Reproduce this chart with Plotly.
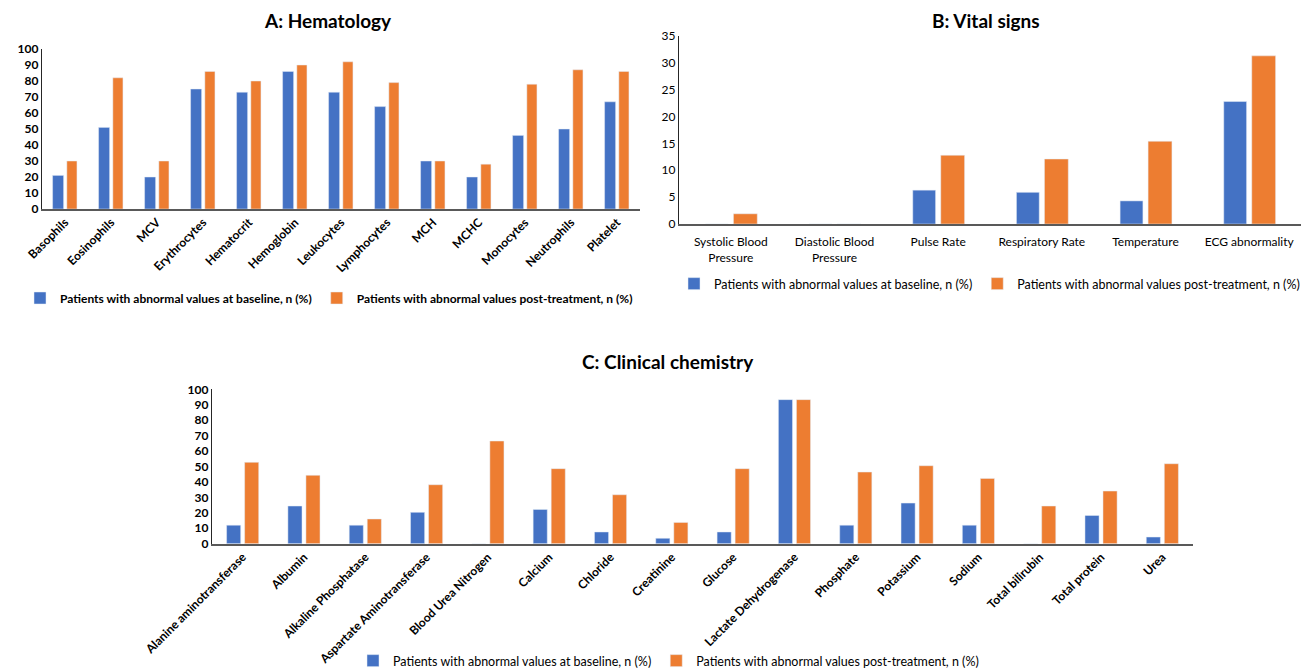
import plotly.graph_objects as go

# ---------------- data ----------------
hema_cats = ["Basophils", "Eosinophils", "MCV", "Erythrocytes", "Hematocrit", "Hemoglobin",
             "Leukocytes", "Lymphocytes", "MCH", "MCHC", "Monocytes", "Neutrophils", "Platelet"]
hema_base = [21, 51, 20, 75, 73, 86, 73, 64, 30, 20, 46, 50, 67]
hema_post = [30, 82, 30, 86, 80, 90, 92, 79, 30, 28, 78, 87, 86]

vital_cats = ["Systolic Blood<br>Pressure", "Diastolic Blood<br>Pressure", "Pulse Rate",
              "Respiratory Rate", "Temperature", "ECG abnormality"]
vital_base = [0, 0, 6.3, 5.9, 4.3, 22.8]
vital_post = [1.9, 0, 12.8, 12.1, 15.4, 31.3]

chem_cats = ["Alanine aminotransferase", "Albumin", "Alkaline Phosphatase",
             "Aspartate Aminotransferase", "Blood Urea Nitrogen", "Calcium", "Chloride",
             "Creatinine", "Glucose", "Lactate Dehydrogenase", "Phosphate", "Potassium",
             "Sodium", "Total bilirubin", "Total protein", "Urea"]
chem_base = [12, 24.4, 12, 20.3, 0, 22.2, 7.6, 3.5, 7.6, 93.3, 12, 26.3, 12, 0, 18.3, 4.3]
chem_post = [52.7, 44.3, 16, 38.2, 66.5, 48.6, 31.7, 13.8, 48.6, 93.3, 46.4, 50.5, 42.3, 24.4, 34.1, 51.8]

name_base = "Patients with abnormal values at baseline, n (%)"
name_post = "Patients with abnormal values post-treatment, n (%)"

BLUE = "#4472C4"
ORANGE = "#ED7D31"
FONT = "Lato"

W, H = 1301, 669


def px_x(a, b):
    return [a / W, b / W]


def px_y(top, bottom):
    return [1 - bottom / H, 1 - top / H]


fig = go.Figure()

# Panel A
fig.add_trace(go.Bar(x=hema_cats, y=hema_base, name=name_base, marker_color=BLUE,
                     width=0.24, offset=-0.27, xaxis="x", yaxis="y", legend="legend"))
fig.add_trace(go.Bar(x=hema_cats, y=hema_post, name=name_post, marker_color=ORANGE,
                     width=0.22, offset=0.04, xaxis="x", yaxis="y", legend="legend"))
# Panel B
fig.add_trace(go.Bar(x=vital_cats, y=vital_base, name=name_base, marker_color=BLUE,
                     width=0.22, offset=-0.245, xaxis="x2", yaxis="y2", legend="legend2"))
fig.add_trace(go.Bar(x=vital_cats, y=vital_post, name=name_post, marker_color=ORANGE,
                     width=0.23, offset=0.025, xaxis="x2", yaxis="y2", legend="legend2"))
# Panel C
fig.add_trace(go.Bar(x=chem_cats, y=chem_base, name=name_base, marker_color=BLUE,
                     width=0.23, offset=-0.262, xaxis="x3", yaxis="y3", legend="legend3"))
fig.add_trace(go.Bar(x=chem_cats, y=chem_post, name=name_post, marker_color=ORANGE,
                     width=0.23, offset=0.032, xaxis="x3", yaxis="y3", legend="legend3"))

xbase = dict(type="category", showgrid=False, showline=True, linecolor="#595959", linewidth=1.5,
             ticks="", zeroline=False, automargin=False)
ybase = dict(showgrid=False, showline=True, linecolor="#262626", linewidth=1.2, ticks="",
             zeroline=False, automargin=False)

legbase = dict(orientation="h", bgcolor="rgba(0,0,0,0)", xanchor="left", yanchor="middle",
               traceorder="normal", itemwidth=30)

fig.update_layout(
    width=W, height=H,
    margin=dict(l=0, r=0, t=0, b=0, autoexpand=False),
    paper_bgcolor="white", plot_bgcolor="white",
    barmode="overlay",
    font=dict(family=FONT, color="black"),
    xaxis=dict(xbase, domain=px_x(42, 640), anchor="y", tickangle=-45,
               tickfont=dict(size=12, weight="bold", family=FONT)),
    yaxis=dict(ybase, domain=px_y(49, 209), anchor="x", range=[0, 100], dtick=10,
               tickfont=dict(size=12, weight="bold", family=FONT)),
    xaxis2=dict(xbase, domain=px_x(679, 1301), anchor="y2", tickangle=0, ticklabelstandoff=6,
                tickfont=dict(size=12, family=FONT)),
    yaxis2=dict(ybase, domain=px_y(36, 224), anchor="x2", range=[0, 35], dtick=5,
                tickfont=dict(size=12, family=FONT)),
    xaxis3=dict(xbase, domain=px_x(212, 1193), anchor="y3", tickangle=-45,
                tickfont=dict(size=12, weight="bold", family=FONT)),
    yaxis3=dict(ybase, domain=px_y(389.3, 543.7), anchor="x3", range=[0, 100], dtick=10,
                tickfont=dict(size=12, weight="bold", family=FONT)),
    legend=dict(legbase, x=20 / W, y=1 - 298 / H,
                font=dict(size=12, weight="bold", family=FONT)),
    legend2=dict(legbase, x=674 / W, y=1 - 284 / H,
                 font=dict(size=12.5, family=FONT)),
    legend3=dict(legbase, x=353 / W, y=1 - 661 / H,
                 font=dict(size=12.5, family=FONT)),
    annotations=[
        dict(text="<b>A: Hematology</b>", x=328 / W, y=1 - 20 / H, xref="paper", yref="paper",
             showarrow=False, font=dict(size=19, family=FONT), xanchor="center", yanchor="middle"),
        dict(text="<b>B: Vital signs</b>", x=986 / W, y=1 - 20 / H, xref="paper", yref="paper",
             showarrow=False, font=dict(size=19, family=FONT), xanchor="center", yanchor="middle"),
        dict(text="<b>C: Clinical chemistry</b>", x=668 / W, y=1 - 361 / H, xref="paper", yref="paper",
             showarrow=False, font=dict(size=19, family=FONT), xanchor="center", yanchor="middle"),
    ],
)

fig.write_html("out.html", config={"displayModeBar": False},
               post_script="document.body.style.margin='0';document.body.style.overflow='hidden';")
